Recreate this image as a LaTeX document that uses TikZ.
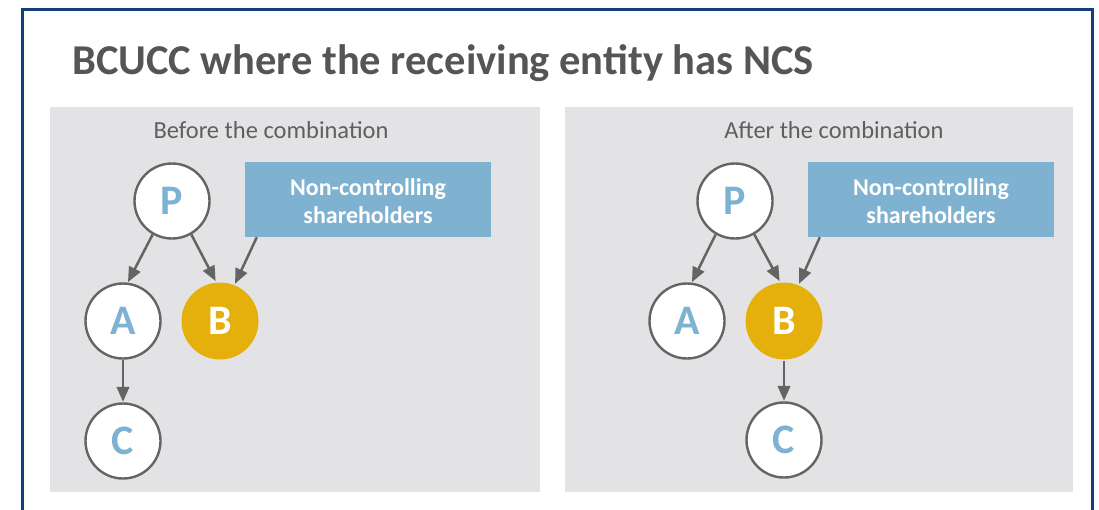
\documentclass[tikz,border=0pt]{standalone}
\usepackage{fontspec}
\setmainfont{Carlito}
\usetikzlibrary{arrows.meta}

\definecolor{frameblue}{RGB}{22,62,122}
\definecolor{panelgray}{RGB}{227,227,230}
\definecolor{titlegray}{RGB}{85,85,85}
\definecolor{subgray}{RGB}{95,95,95}
\definecolor{letterblue}{RGB}{126,178,210}
\definecolor{ncsblue}{RGB}{127,178,209}
\definecolor{gold}{RGB}{229,176,12}
\definecolor{linegray}{RGB}{100,100,100}

\tikzset{
  entity/.style={circle, draw=linegray, line width=2.4pt, fill=white,
    minimum size=75pt, inner sep=0pt, text=letterblue,
    font=\fontsize{42}{42}\selectfont\bfseries},
  target/.style={entity, draw=none, fill=gold, minimum size=77pt, text=white},
  ncsbox/.style={rectangle, fill=ncsblue, draw=none,
    minimum width=246pt, minimum height=75pt, inner sep=0pt},
  ncstext/.style={text=white, inner sep=0pt, align=center,
    font=\fontsize{24}{28}\selectfont\bfseries},
  panel/.style={fill=panelgray, draw=none},
  paneltitle/.style={text=subgray, font=\fontsize{24.5}{24.5}\selectfont, anchor=base},
  own/.style={draw=linegray, line width=2.5pt,
    -{Triangle[length=15pt,width=12.5pt]}, shorten >=0.5pt}
}

\begin{document}
\begin{tikzpicture}[x=1pt, y=-1pt]
  \useasboundingbox (0,0) rectangle (1099,509);
  \begin{scope}
    \clip (0,0) rectangle (1099,509);
    \draw[frameblue, line width=3pt, fill=white] (22,9) rectangle (1092,530);
  \end{scope}

  \node[anchor=base west, text=titlegray, inner sep=0pt,
    font=\fontsize{42.5}{42.5}\selectfont\bfseries] (title) at (72,74)
    {BCUCC where the receiving entity has NCS};

  % before the combination
  \path[panel] (50,107) rectangle (540,492);
  \node[paneltitle] (lt) at (271,138) {Before the combination};
  \node[entity] (lP) at (172,201) {P};
  \node[entity] (lA) at (123,321) {A};
  \node[target] (lB) at (220,321) {B};
  \node[entity] (lC) at (123,441) {C};
  \node[ncsbox] (lN) at (368,199.5) {};
  \node[ncstext] (lNt) at ([yshift=-2pt]lN.center) {Non-controlling\\shareholders};
  \draw[own] (lP.-120) -- (lA.83);
  \draw[own] (lP.-60) -- (lB.96);
  \draw[own] ([xshift=12pt]lN.south west) -- (lB.68);
  \draw[own] (lA.south) -- (lC.north);

  % after the combination
  \path[panel] (565,107) rectangle (1073,492);
  \node[paneltitle] (rt) at (834,138) {After the combination};
  \node[entity] (rP) at (735,201) {P};
  \node[entity] (rA) at (687,321) {A};
  \node[target] (rB) at (784,321) {B};
  \node[entity] (rC) at (784,440) {C};
  \node[ncsbox] (rN) at (931,199.5) {};
  \node[ncstext] (rNt) at ([yshift=-2pt]rN.center) {Non-controlling\\shareholders};
  \draw[own] (rP.-120) -- (rA.83);
  \draw[own] (rP.-60) -- (rB.96);
  \draw[own] ([xshift=12pt]rN.south west) -- (rB.68);
  \draw[own] (rB.south) -- (rC.north);
\end{tikzpicture}
\end{document}
